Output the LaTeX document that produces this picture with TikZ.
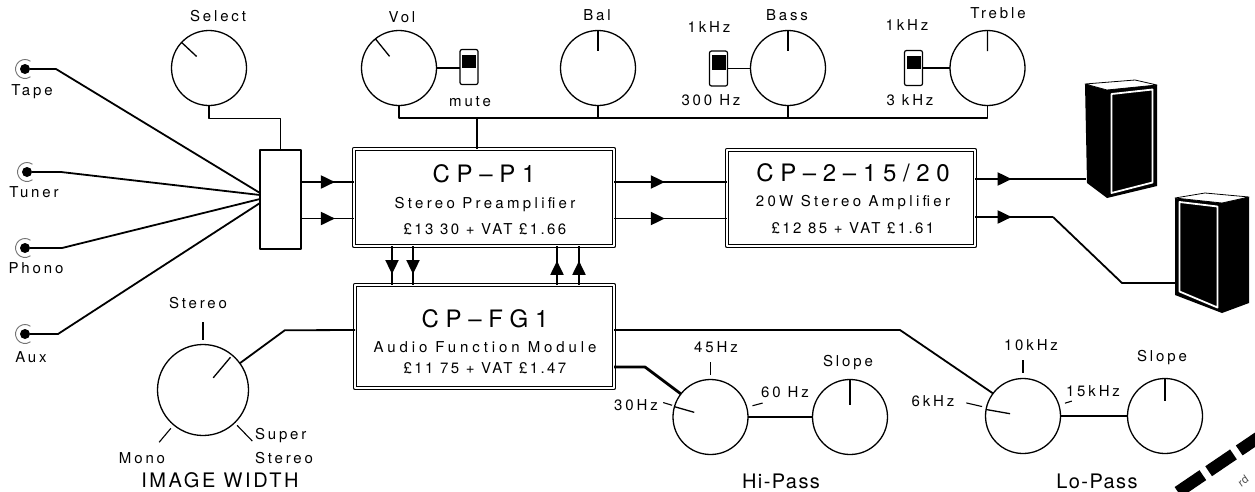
\documentclass[tikz,border=0pt]{standalone}
\usepackage{fontspec}
\setmainfont{TeX Gyre Heros}
\newfontfamily\lblfam[LetterSpace=19]{TeX Gyre Heros}
\newfontfamily\subfam[LetterSpace=22]{TeX Gyre Heros}
\newfontfamily\fnfam[LetterSpace=26]{TeX Gyre Heros}
\newfontfamily\pricefam[LetterSpace=16]{TeX Gyre Heros}
\newfontfamily\capfam[LetterSpace=7]{TeX Gyre Heros}
\newfontfamily\widefam[LetterSpace=13]{TeX Gyre Heros}
\usetikzlibrary{calc,arrows.meta,decorations.markings}

\tikzset{
  lbl/.style={font=\lblfam\fontsize{15}{17}\selectfont, inner sep=0pt, outer sep=0pt},
  caption/.style={font=\capfam\fontsize{20}{22}\selectfont, inner sep=0pt, outer sep=0pt},
  widecaption/.style={font=\widefam\fontsize{20}{22}\selectfont, inner sep=0pt, outer sep=0pt},
  title/.style={font=\fontsize{24}{26}\selectfont, inner sep=0pt, outer sep=0pt},
  subtitle/.style={font=\subfam\fontsize{15}{17}\selectfont, inner sep=0pt, outer sep=0pt},
  price/.style={font=\pricefam\fontsize{15}{17}\selectfont, inner sep=0pt, outer sep=0pt},
  knob/.style={circle, draw, line width=1.3pt, minimum size=75pt, inner sep=0pt, outer sep=0pt},
  bigknob/.style={knob, minimum size=91pt},
  jack/.style={circle, fill=black, minimum size=10pt, inner sep=0pt, outer sep=0pt},
  ring/.style={draw=black!55, line width=0.9pt},
  selector/.style={draw, line width=2.4pt, minimum width=41pt, minimum height=99pt, inner sep=0pt, outer sep=0pt},
  module/.style={draw, double, double distance=2.6pt, line width=1pt, inner sep=0pt, outer sep=0pt},
  switchbox/.style={draw, rounded corners=2pt, line width=1.2pt, minimum width=18pt, minimum height=35pt, inner sep=0pt, outer sep=0pt},
  wire/.style={line width=1.8pt},
  heavy/.style={line width=2.8pt},
  bus/.style={line width=1.4pt},
  tick/.style={line width=1.1pt},
  pointer/.style={line width=1.3pt},
  flow/.style={line width=1.9pt, postaction={decorate},
    decoration={markings, mark=at position #1 with {\arrow{Triangle[length=14pt,width=13pt]}}}},
  cabinet/.style={fill=black},
  bezel/.style={draw=white, line width=1.8pt},
}

% a short radial mark on a knob: node, angle, inner and outer fraction of the radius
\newcommand\knobtick[4]{\draw[tick] ($(#1.center)!#3!(#1.#2)$) -- ($(#1.center)!#4!(#1.#2)$);}

\begin{document}
\begin{tikzpicture}[x=1pt,y=-1pt,line join=round]
\useasboundingbox (0,0) rectangle (1255,491);
\fill[white] (0,0) rectangle (1255,491);
\clip (0,0) rectangle (1255,491);

% ---------- input sockets ----------
\node[jack] (tape)  at (25,69)  {};
\node[jack] (tuner) at (27,172) {};
\node[jack] (phono) at (25,248) {};
\node[jack] (aux)   at (25,334) {};
\foreach \j in {tape,tuner,phono,aux}
  \draw[ring] (\j.center) ++(55:9.5) arc[start angle=55,end angle=305,radius=9.5];
\node[lbl] (lTape)  at (32,92)  {Tape};
\node[lbl] (lTuner) at (34,192) {Tuner};
\node[lbl] (lPhono) at (36,268) {Phono};
\node[lbl] (lAux)   at (31,357) {Aux};

% ---------- input selector ----------
\node[selector] (selbox) at (280.5,199.5) {};
\draw[wire] (tape.east)  -- ++(26,0) -- ([yshift=6.5]selbox.west);
\draw[wire] (tuner.east) -- ++(29,0) -- ([yshift=4.5]selbox.west);
\draw[wire] (phono.east) -- ++(32,0) -- ([yshift=0.5]selbox.west);
\draw[wire] (aux.east)   -- ++(28,0) -- ([yshift=-3.5]selbox.west);

\node[knob] (selk) at (209,68) {};
\draw[pointer] ($(selk.center)!0.45!(selk.137)$) -- (selk.137);
\node[lbl] (lSelect) at (218,16) {Select};
\draw[bus] (selk.south) -- ++(0,13) -| (selbox.north);

% ---------- front panel controls ----------
\node[knob] (volk) at (399,68) {};
\draw[pointer] ($(volk.center)!0.4!(volk.129)$) -- (volk.129);
\node[lbl] (lVol) at (402,17) {Vol};

\node[switchbox] (mute) at (469,67) {};
\fill ([xshift=2pt,yshift=-5pt]mute.north west) rectangle ([xshift=-2pt,yshift=-1pt]mute.east);
\node[lbl] (lMute) at (470,102) {mute};
\draw[bus] (volk.east) -- (volk.east -| mute.west);

\node[knob] (balk) at (598,68) {};
\draw[pointer] (balk.north) -- ($(balk.north)!0.55!(balk.center)$);
\node[lbl] (lBal) at (597,15) {Bal};

\node[switchbox] (bsw) at (718.5,68.5) {};
\fill ([xshift=2pt,yshift=-4pt]bsw.north west) rectangle ([xshift=-2pt,yshift=-1pt]bsw.east);
\node[lbl] (lB1k)  at (709,27)  {1kHz};
\node[lbl] (lB300) at (711,100) {300 Hz};
\node[knob] (bassk) at (788,68) {};
\draw[pointer] (bassk.north) -- ($(bassk.north)!0.55!(bassk.center)$);
\node[lbl] (lBass) at (787,15) {Bass};
\draw[bus] (bsw.east) -- (bsw.east -| bassk.west);

\node[switchbox] (tsw) at (913.5,68) {};
\fill ([xshift=2pt,yshift=-5pt]tsw.north west) rectangle ([xshift=-2pt,yshift=-1pt]tsw.east);
\node[lbl] (lT1k) at (907,25)  {1kHz};
\node[lbl] (lT3k) at (910,100) {3 kHz};
\node[knob] (trek) at (987.5,68) {};
\draw[pointer] (trek.north) -- ($(trek.north)!0.55!(trek.center)$);
\node[lbl] (lTreble) at (998,13) {Treble};
\draw[bus] (tsw.east) -- (tsw.east -| trek.west);

% control bus
\coordinate (busy) at (0,118);
\draw[bus] (volk.south) -- (volk.south |- busy) -- (trek.south |- busy) -- (trek.south);
\draw[line width=2.2pt] ([xshift=78pt]volk.south |- busy) -- (bassk.south |- busy);
\draw[bus] (balk.south) -- (balk.south |- busy);
\draw[bus] (bassk.south) -- (bassk.south |- busy);

% ---------- modules ----------
\node[module, minimum width=260pt, minimum height=97pt] (p1) at (484,197.5) {};
\node[title]    (p1t) at (484,174) {C P -- P 1};
\node[subtitle] (p1s) at (485,205) {Stereo Preamplifier};
\node[price]    (p1p) at (485,229) {£13 30 + VAT £1.66};
\draw[bus] ([xshift=-7pt]p1.north) -- ([xshift=-7pt]p1.north |- busy);

\node[module, minimum width=248pt, minimum height=96pt] (amp) at (851,198) {};
\node[title]    (ampt) at (853,173) {C P -- 2 -- 1 5 / 2 0};
\node[subtitle] (amps) at (853,203) {20W Stereo Amplifier};
\node[price]    (ampp) at (853,228) {£12 85 + VAT £1.61};

\node[module, minimum width=259pt, minimum height=103pt] (fg) at (484.5,336.5) {};
\node[title]    (fgt) at (485,319) {C P -- F G 1};
\node[subtitle, font=\fnfam\fontsize{15}{17}\selectfont] (fgs) at (485,347) {Audio Function Module};
\node[price]    (fgp) at (485,368) {£11 75 + VAT £1.47};

% signal paths
\coordinate (ra) at (0,182);
\coordinate (rb) at (0,218.5);
\draw[flow=0.64] (selbox.east |- ra) -- (p1.west |- ra);
\draw[flow=0.64] (selbox.east |- rb) -- (p1.west |- rb);
\draw[flow=0.45] (p1.east |- ra) -- (amp.west |- ra);
\draw[flow=0.45] (p1.east |- rb) -- (amp.west |- rb);

\coordinate (c1) at (392,0);
\coordinate (c2) at (413,0);
\coordinate (c3) at (557,0);
\coordinate (c4) at (579,0);
\draw[flow=0.72] (p1.south -| c1) -- (fg.north -| c1);
\draw[flow=0.72] (p1.south -| c2) -- (fg.north -| c2);
\draw[flow=0.62] (fg.north -| c3) -- (p1.south -| c3);
\draw[flow=0.62] (fg.north -| c4) -- (p1.south -| c4);

% ---------- loudspeakers ----------
\fill[cabinet] (1085,84) -- (1107,90) -- (1107,198) -- (1087,183) -- cycle;
\draw[line width=0.8pt, fill=white] (1085,84) -- (1135,80) -- (1157,85) -- (1107,90) -- cycle;
\fill[cabinet] (1107,90) -- (1157,85) -- (1157,186) -- (1107,198) -- cycle;
\draw[bezel] (1111.5,94) -- (1152.5,89.5) -- (1152.5,182.5) -- (1111.5,193) -- cycle;
\coordinate (spkA) at (1086,179);

\fill[cabinet] (1175,198) -- (1222,203) -- (1222,313) -- (1175,295) -- cycle;
\draw[bezel] (1179.5,202) -- (1217.5,206.5) -- (1217.5,307.5) -- (1179.5,291.5) -- cycle;
\fill[cabinet] (1222,203) -- (1249,197) -- (1249,303) -- (1222,313) -- cycle;
\draw[line width=0.8pt, fill=white] (1175,198) -- (1205,193) -- (1249,197) -- (1222,203) -- cycle;
\coordinate (spkB) at (1175,283);

\coordinate (re) at (0,179);
\coordinate (rf) at (0,217);
\draw[flow=0.33] (amp.east |- re) -- (spkA);
\coordinate (kneeA) at (1053,217);
\coordinate (kneeB) at (1122,283);
\draw[flow=0.47] (amp.east |- rf) -- (kneeA);
\draw[wire] (kneeA) -- (kneeB) -- (spkB);

% ---------- image width ----------
\node[bigknob] (iw) at (203,390) {};
\draw[pointer] ($(iw.center)!0.35!(iw.50)$) -- ($(iw.center)!0.94!(iw.50)$);
\knobtick{iw}{90}{1.1}{1.5}
\knobtick{iw}{230}{1.1}{1.5}
\knobtick{iw}{314}{1.08}{1.56}
\node[lbl] (lStereo) at (198,303) {Stereo};
\node[lbl] (lMono) at (142,458) {Mono};
\node[lbl, anchor=west] (lSuper) at (255,436) {Super};
\node[lbl, anchor=west] (lSuperSt) at (255,458) {Stereo};
\node[widecaption] (lImage) at (220,480) {IMAGE WIDTH};
\coordinate (rg) at (0,330);
\draw[wire] (iw.36) -- ++(45,-33) -- (fg.west |- rg);

% ---------- filters ----------
\node[knob] (hp) at (710.5,417) {};
\draw[pointer] ($(hp.center)!0.45!(hp.164)$) -- (hp.164);
\knobtick{hp}{90}{1.12}{1.47}
\knobtick{hp}{163}{1.07}{1.32}
\knobtick{hp}{15}{1.16}{1.44}
\node[lbl] (l45) at (716,347) {45Hz};
\node[lbl] (l30) at (636,405) {30Hz};
\node[lbl] (l60) at (785,392) {60 Hz};

\node[knob] (s1) at (850,417) {};
\draw[pointer] (s1.north) -- ($(s1.north)!0.68!(s1.center)$);
\node[lbl] (lSlope1) at (848,363) {Slope};
\draw[heavy] (hp.east) -- (s1.west);
\node[caption] (lHi) at (781,481) {Hi-Pass};

\node[knob] (lp) at (1023,416) {};
\draw[pointer] ($(lp.center)!0.35!(lp.170)$) -- (lp.170);
\knobtick{lp}{90}{1.15}{1.5}
\knobtick{lp}{167}{1.12}{1.55}
\knobtick{lp}{17}{1.17}{1.36}
\node[lbl] (l10k) at (1031,345) {10kHz};
\node[lbl] (l6k)  at (933,401)  {6kHz};
\node[lbl] (l15k) at (1093,391) {15kHz};

\node[knob] (s2) at (1165,416) {};
\draw[pointer] (s2.north) -- ($(s2.north)!0.6!(s2.center)$);
\node[lbl] (lSlope2) at (1162,358) {Slope};
\draw[heavy] (lp.east) -- (s2.west);
\node[caption] (lLo) at (1097,481) {Lo-Pass};

\coordinate (rh) at (0,330);
\coordinate (ri) at (0,367);
\draw[wire] (fg.east |- rh) -- (900,330) -- (lp.143);
\draw[heavy] (fg.east |- ri) -- (645,367) -- (hp.142);

% ---------- edge of the neighbouring emblem ----------
\draw[line width=12pt, dash pattern=on 30pt off 7pt] (1178,492) -- (1262,435);
\node[font=\fontsize{11}{12}\selectfont, text=black!70, rotate=35, inner sep=0pt] (emb) at (1243,481) {rd};

\end{tikzpicture}
\end{document}
